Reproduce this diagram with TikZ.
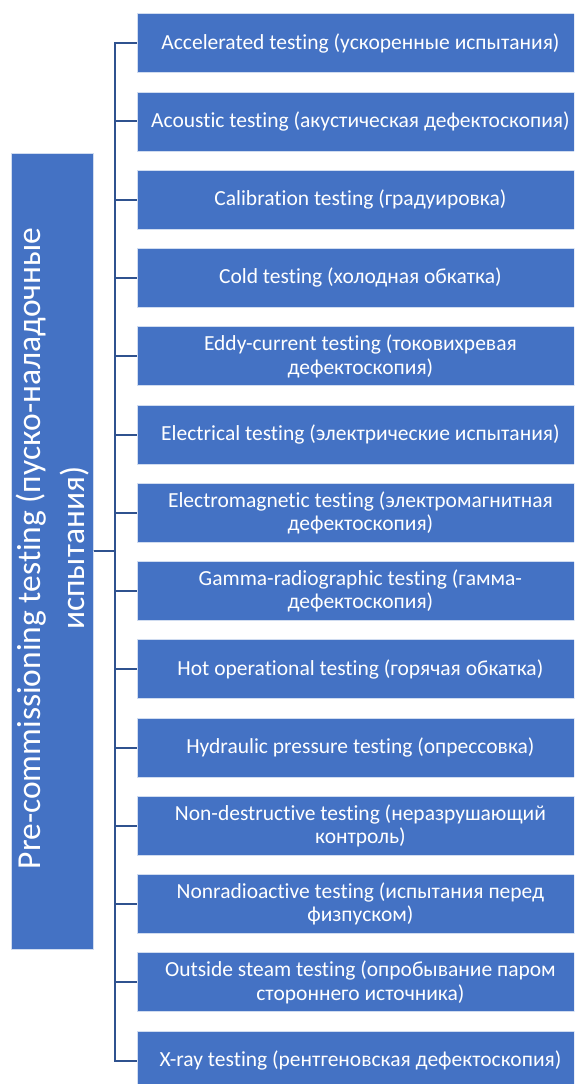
\documentclass[tikz,border=0pt]{standalone}
\usepackage{fontspec}
\setmainfont{Carlito}[Ligatures={NoCommon}]
\definecolor{boxblue}{HTML}{4472C4}
\definecolor{linkblue}{HTML}{2F528F}
\begin{document}
\begin{tikzpicture}[x=1pt,y=1pt,
  box/.style={draw=white!75!boxblue, line width=0.8pt, fill=boxblue, text=white,
    inner sep=0pt, anchor=north west},
  leaf/.style={box, minimum width=446pt, minimum height=59pt, align=center,
    font=\fontsize{21.5}{23.5}\selectfont},
  conn/.style={draw=linkblue, line width=2pt}]
\useasboundingbox (0,0) rectangle (574,-1084);
\clip (0,0) rectangle (574,-1084);

% root box with its rotated caption
\node[box, minimum width=82pt, minimum height=796pt] (root) at (11,-153) {};
\node[rotate=90, text=white, align=center, font=\fontsize{33.5}{44}\selectfont]
  (roottext) at ([yshift=3pt]root.center)
  {Pre-commissioning testing (пуско-наладочные\\испытания)};

% child boxes, one every 78.26pt
\foreach \i/\t in {
  1/{Accelerated testing (ускоренные испытания)},
  2/{Acoustic testing (акустическая дефектоскопия)},
  3/{Calibration testing (градуировка)},
  4/{Cold testing (холодная обкатка)},
  5/{Eddy-current testing (токовихревая\\дефектоскопия)},
  6/{Electrical testing (электрические испытания)},
  7/{Electromagnetic testing (электромагнитная\\дефектоскопия)},
  8/{Gamma-radiographic testing (гамма-\\дефектоскопия)},
  9/{Hot operational testing (горячая обкатка)},
  10/{Hydraulic pressure testing (опрессовка)},
  11/{Non-destructive testing (неразрушающий\\контроль)},
  12/{Nonradioactive testing (испытания перед\\физпуском)},
  13/{Outside steam testing (опробывание паром\\стороннего источника)},
  14/{X-ray testing (рентгеновская дефектоскопия)}}
{
  \node[leaf] (c\i) at (137,{-13.3-78.26*(\i-1)}) {\t};
}

% elbow connectors from the root to every child
\coordinate (bus) at (115,0);
\foreach \i in {1,...,14}
  \draw[conn] (root.east) -- (root.east -| bus) |- (c\i.west);
\end{tikzpicture}
\end{document}
